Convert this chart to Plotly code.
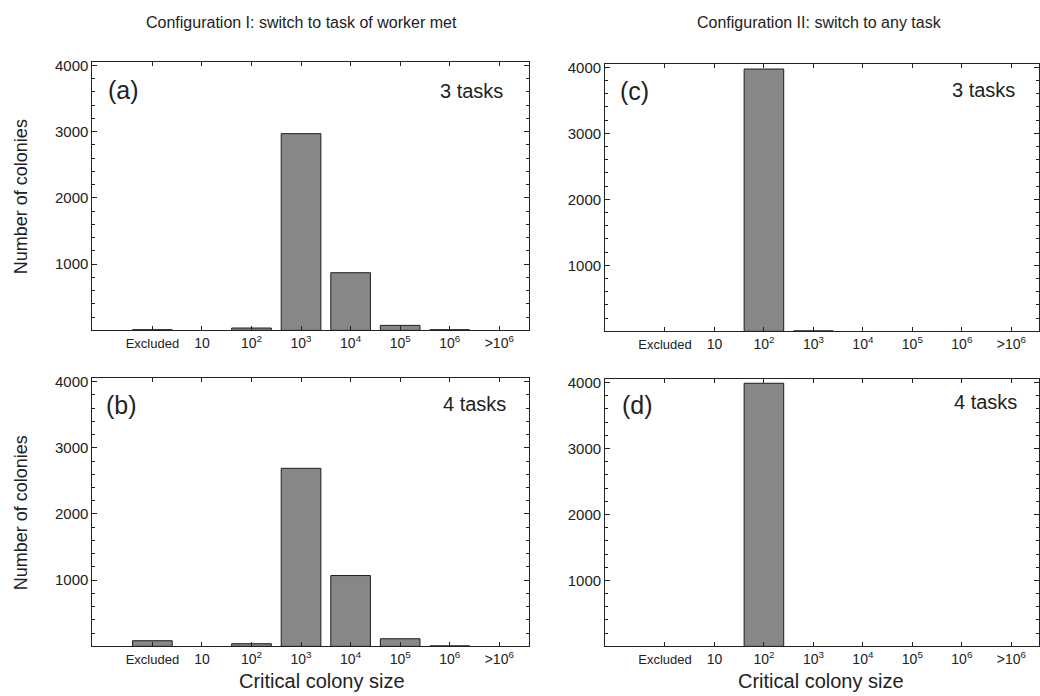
import plotly.graph_objects as go

W, H = 1040, 696

categories = ["Excluded", "10", "10<sup>2</sup>", "10<sup>3</sup>", "10<sup>4</sup>",
              "10<sup>5</sup>", "10<sup>6</sup>", ">10<sup>6</sup>"]
tick_text = ["<span style='font-size:13px'>Excluded</span>"] + categories[1:]
positions = [1, 2, 3, 4, 5, 6, 7, 8]

vals_a = [10, 0, 35, 2970, 870, 75, 10, 0]     # Config I, 3 tasks
vals_b = [85, 0, 40, 2690, 1070, 115, 8, 0]    # Config I, 4 tasks
vals_c = [0, 0, 3975, 8, 0, 0, 0, 0]           # Config II, 3 tasks
vals_d = [0, 0, 3990, 0, 0, 0, 0, 0]           # Config II, 4 tasks

y_ticks = [1000, 2000, 3000, 4000]

FONT = "Arial, Liberation Sans, sans-serif"
BAR_FILL = "#878787"
BAR_LINE = "#1e1e1e"

def px_x(p):
    return p / W

def px_y(p):
    return 1 - p / H

panels = [
    # key, values, x-domain px, y-domain px (top, bottom), x-range
    ("", vals_a, (92.5, 529.5), (57.5, 327.7), [-0.21, 8.6]),
    ("2", vals_b, (92.5, 529.5), (376.0, 646.0), [-0.21, 8.6]),
    ("3", vals_c, (605.7, 1040.0), (59.5, 328.7), [-0.21, 8.56]),
    ("4", vals_d, (605.7, 1040.0), (377.0, 646.0), [-0.21, 8.56]),
]

fig = go.Figure()
layout = dict(
    width=W, height=H,
    margin=dict(l=0, r=0, t=0, b=0),
    paper_bgcolor="white", plot_bgcolor="white",
    showlegend=False,
    font=dict(family=FONT, color="#222222"),
    bargap=0.2,
)

for key, vals, (x0, x1), (yt, yb), xr in panels:
    # empty categories draw no bar at all
    shown = [v if v > 0 else None for v in vals]
    fig.add_trace(go.Bar(
        x=positions, y=shown,
        xaxis="x" + key, yaxis="y" + key,
        width=0.8,
        marker=dict(color=BAR_FILL, line=dict(color=BAR_LINE, width=1)),
        hoverinfo="x+y",
    ))
    layout["xaxis" + key] = dict(
        domain=[px_x(x0), px_x(x1)], anchor="y" + key,
        range=xr, tickmode="array", tickvals=positions, ticktext=tick_text,
        ticks="inside", ticklen=4, tickcolor="#222222",
        showline=True, linecolor="#222222", linewidth=1, mirror="allticks",
        showgrid=False, zeroline=False,
        tickfont=dict(size=14, family=FONT, color="#222222"),
        fixedrange=True,
    )
    layout["yaxis" + key] = dict(
        domain=[px_y(yb), px_y(yt)], anchor="x" + key,
        range=[0, 4050], tickmode="array", tickvals=y_ticks,
        ticks="inside", ticklen=5, tickcolor="#222222",
        minor=dict(dtick=200, tick0=0, ticks="inside", ticklen=3, tickcolor="#222222", showgrid=False),
        showline=True, linecolor="#222222", linewidth=1, mirror="allticks",
        showgrid=False, zeroline=False,
        tickfont=dict(size=15, family=FONT, color="#222222"),
        fixedrange=True,
    )

annotations = []
def ann(text, x, y, size, xanchor="center", yanchor="middle", angle=0):
    annotations.append(dict(
        text=text, x=px_x(x), y=px_y(y), xref="paper", yref="paper",
        xanchor=xanchor, yanchor=yanchor, showarrow=False, textangle=angle,
        font=dict(family=FONT, size=size, color="#222222"),
    ))

ann("Configuration I: switch to task of worker met", 302, 18, 16)
ann("Configuration II: switch to any task", 820, 18, 16)
ann("Number of colonies", 21, 192.6, 18, angle=-90)
ann("Number of colonies", 21, 511, 18, angle=-90)
ann("Critical colony size", 322, 681, 20)
ann("Critical colony size", 822, 681, 20)
ann("(a)", 106, 86, 25, xanchor="left")
ann("(b)", 104, 403, 25, xanchor="left")
ann("(c)", 619, 87, 25, xanchor="left")
ann("(d)", 621, 403, 25, xanchor="left")
ann("3 tasks", 505, 87, 20, xanchor="right")
ann("4 tasks", 508, 402, 20, xanchor="right")
ann("3 tasks", 1018, 86, 20, xanchor="right")
ann("4 tasks", 1020, 400, 20, xanchor="right")

layout["annotations"] = annotations
fig.update_layout(**layout)
fig.write_html("out.html")
